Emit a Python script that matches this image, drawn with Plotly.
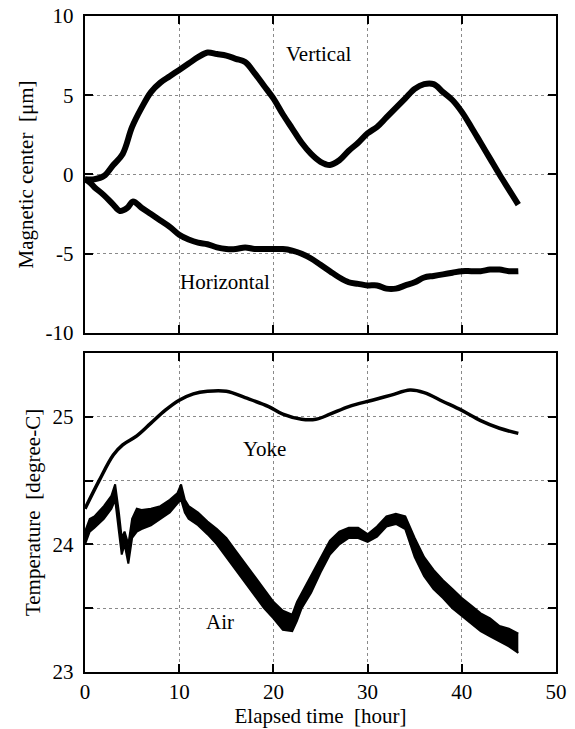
import plotly.graph_objects as go
from plotly.subplots import make_subplots

# ---- data ----
vert_x = [0, 1, 2, 3, 4, 5, 6, 7, 8, 9, 10, 11, 12, 13, 14, 15, 16, 17, 18, 19, 20, 21, 22, 23,
          24, 25, 26, 27, 28, 29, 30, 31, 32, 33, 34, 35, 36, 37, 38, 39, 40, 41, 42, 43, 44, 45, 46]
vert_y = [-0.3, -0.3, -0.1, 0.6, 1.3, 3.0, 4.2, 5.2, 5.8, 6.2, 6.6, 7.0, 7.4, 7.7, 7.6, 7.5, 7.3, 7.1,
          6.4, 5.6, 4.8, 3.8, 2.9, 2.0, 1.3, 0.8, 0.6, 0.9, 1.5, 2.0, 2.6, 3.0, 3.6, 4.2, 4.8, 5.4,
          5.7, 5.7, 5.2, 4.7, 3.95, 3.0, 2.0, 1.0, 0.0, -0.95, -1.9]

horiz_x = [0, 0.5, 1, 2, 3, 3.7, 4.5, 5.1, 6, 7, 8, 9, 10, 11, 12, 13, 14, 15, 16, 17, 18, 19, 20,
           21, 22, 23, 24, 25, 26, 27, 28, 29, 30, 31, 32, 33, 34, 35, 36, 37, 38, 39, 40, 41, 42,
           43, 44, 45, 46]
horiz_y = [-0.3, -0.5, -0.8, -1.3, -1.9, -2.3, -2.1, -1.7, -2.1, -2.5, -2.9, -3.3, -3.8, -4.1, -4.3,
           -4.4, -4.6, -4.7, -4.7, -4.6, -4.7, -4.7, -4.7, -4.7, -4.8, -5.0, -5.3, -5.7, -6.1, -6.5,
           -6.8, -6.9, -7.0, -7.0, -7.2, -7.2, -7.0, -6.8, -6.5, -6.4, -6.3, -6.2, -6.1, -6.1, -6.1,
           -6.0, -6.0, -6.1, -6.1]

yoke_x = [0, 1.5, 3, 4, 5.5, 7, 8.5, 10, 11.5, 13, 15, 17, 19.5, 21, 23, 24.5, 26, 28, 30.5, 32.5,
          34.5, 36, 38, 40, 42, 44, 46]
yoke_y = [24.28, 24.5, 24.7, 24.78, 24.85, 24.95, 25.05, 25.13, 25.18, 25.2, 25.2, 25.15, 25.08,
          25.02, 24.98, 24.98, 25.02, 25.08, 25.13, 25.17, 25.21, 25.19, 25.12, 25.05, 24.97, 24.91,
          24.87]

air_x = [0, 0.5, 1, 2, 2.8, 3.2, 3.6, 3.9, 4.2, 4.6, 5.0, 5.5, 6, 7, 8, 9, 9.8, 10.2, 10.6, 11, 12,
         13, 14, 15, 16, 17, 18, 19, 20, 21, 22, 22.5, 23, 24, 25, 26, 27, 28, 29, 30, 31, 32, 33,
         34, 35, 36, 37, 38, 39, 40, 41, 42, 43, 44, 45, 46]
air_lo = [24.0, 24.1, 24.13, 24.2, 24.28, 24.35, 24.1, 23.92, 24.0, 23.85, 24.05, 24.1, 24.12, 24.15,
          24.2, 24.25, 24.32, 24.35, 24.25, 24.2, 24.15, 24.08, 24.0, 23.9, 23.8, 23.7, 23.6, 23.5,
          23.42, 23.33, 23.32, 23.4, 23.5, 23.62, 23.78, 23.92, 24.0, 24.05, 24.05, 24.02, 24.06,
          24.14, 24.16, 24.12, 23.9, 23.75, 23.65, 23.58, 23.5, 23.44, 23.38, 23.32, 23.28, 23.24,
          23.2, 23.15]
air_hi = [24.1, 24.2, 24.22, 24.3, 24.38, 24.47, 24.25, 24.05, 24.1, 24.0, 24.2, 24.28, 24.27, 24.28,
          24.3, 24.35, 24.4, 24.47, 24.35, 24.3, 24.25, 24.18, 24.12, 24.05, 23.95, 23.85, 23.75,
          23.65, 23.55, 23.48, 23.45, 23.55, 23.62, 23.75, 23.9, 24.03, 24.1, 24.13, 24.13, 24.08,
          24.14, 24.22, 24.24, 24.22, 24.05, 23.9, 23.8, 23.72, 23.65, 23.58, 23.52, 23.46, 23.42,
          23.36, 23.34, 23.3]

x_ticks = [0, 10, 20, 30, 40, 50]
x_ticktext = ["0", "10", "20", "30", "40", "50"]
top_ticks = [-10, -5, 0, 5, 10]
top_ticktext = ["-10\u00a0", "-5\u00a0", "0\u00a0", "5\u00a0", "10\u00a0"]
bot_tickvals = [23, 23.5, 24, 24.5, 25]
bot_ticktext = ["23\u00a0", "", "24\u00a0", "", "25\u00a0"]

FONT = "Liberation Serif"
fig = make_subplots(rows=2, cols=1, vertical_spacing=0.0305)

fig.add_trace(go.Scatter(x=vert_x, y=vert_y, mode="lines", line=dict(color="black", width=6, shape="spline")),
              row=1, col=1)
fig.add_trace(go.Scatter(x=horiz_x, y=horiz_y, mode="lines", line=dict(color="black", width=6, shape="spline")),
              row=1, col=1)
fig.add_trace(go.Scatter(x=yoke_x, y=yoke_y, mode="lines", line=dict(color="black", width=3.5, shape="spline")),
              row=2, col=1)
fig.add_trace(go.Scatter(x=air_x, y=air_lo, mode="lines", line=dict(color="black", width=2)),
              row=2, col=1)
fig.add_trace(go.Scatter(x=air_x, y=air_hi, mode="lines", line=dict(color="black", width=2),
                         fill="tonexty", fillcolor="black"), row=2, col=1)

tick_font = dict(family=FONT, size=21, color="black")
title_font = dict(family=FONT, size=21, color="black")
axis_common = dict(showline=True, linecolor="black", linewidth=2, mirror="ticks",
                   ticks="inside", ticklen=8, tickwidth=2, tickcolor="black",
                   showgrid=True, gridcolor="#8a8a8a", griddash="dot", gridwidth=1,
                   zeroline=False, tickfont=tick_font, automargin=False)

fig.update_xaxes(**axis_common)
fig.update_yaxes(**axis_common)
fig.update_xaxes(range=[0, 50], tickvals=x_ticks, showticklabels=False, row=1, col=1)
fig.update_xaxes(range=[0, 50], tickvals=x_ticks, ticktext=x_ticktext,
                 title=dict(text="Elapsed time\u00a0 [hour]", font=title_font, standoff=2),
                 row=2, col=1)
fig.update_yaxes(range=[-10, 10], tickvals=top_ticks, ticktext=top_ticktext,
                 title=dict(text="Magnetic center\u00a0 [\u03bcm]", font=title_font, standoff=6),
                 row=1, col=1)
fig.update_yaxes(range=[23, 25.5], tickvals=bot_tickvals, ticktext=bot_ticktext,
                 title=dict(text="Temperature\u00a0 [degree-C]", font=title_font, standoff=6),
                 row=2, col=1)

ann_font = dict(family=FONT, size=21, color="black")
fig.add_annotation(x=24.8, y=7.6, xref="x", yref="y", text="Vertical", showarrow=False, font=ann_font)
fig.add_annotation(x=14.9, y=-6.8, xref="x", yref="y", text="Horizontal", showarrow=False, font=ann_font)
fig.add_annotation(x=19.1, y=24.75, xref="x2", yref="y2", text="Yoke", showarrow=False, font=ann_font)
fig.add_annotation(x=14.3, y=23.39, xref="x2", yref="y2", text="Air", showarrow=False, font=ann_font)

fig.update_layout(width=575, height=729, margin=dict(l=85, r=19, t=16, b=57),
                  paper_bgcolor="white", plot_bgcolor="white", showlegend=False,
                  yaxis=dict(domain=[0.5168, 1.0]), yaxis2=dict(domain=[0.0, 0.4863]))

fig.write_html("out.html")
